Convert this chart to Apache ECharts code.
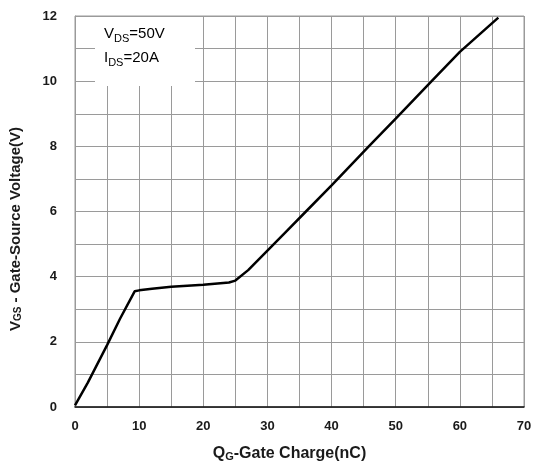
<!DOCTYPE html>
<html>
<head>
<meta charset="utf-8">
<script src="https://cdn.jsdelivr.net/npm/echarts@6/dist/echarts.min.js"></script>
<style>
  html, body { margin: 0; padding: 0; background: #fff; }
  #chart { width: 541px; height: 467px; }
</style>
</head>
<body>
<div id="chart"></div>
<script>
// gate charge curve
var chargeNC = [0, 2, 5, 7, 9.3, 10, 12, 15, 20, 24, 25, 27, 30, 33, 36, 40, 45.8, 50, 55.6, 60, 66];
var vgsVolts = [0.05, 0.75, 1.9, 2.7, 3.55, 3.58, 3.63, 3.69, 3.75, 3.82, 3.88, 4.2, 4.8, 5.4, 6.0, 6.8, 8.0, 8.85, 10.0, 10.9, 11.95];

var xLabelsEvery = 10;
var yLabelsEvery = 2;

var chart = echarts.init(document.getElementById('chart'));

var font = 'Liberation Sans, Arial, sans-serif';

var option = {
  backgroundColor: '#fff',
  animation: false,
  grid: {
    left: 75,
    right: 17,
    top: 16,
    bottom: 58,
    show: true,
    borderColor: '#9a9a9a',
    borderWidth: 1
  },
  xAxis: {
    type: 'value',
    min: 0,
    max: 70,
    interval: 5,
    name: '{b|Q}{s|G}{b|-Gate Charge(nC)}',
    nameLocation: 'middle',
    nameGap: 39,
    nameTextStyle: {
      padding: [0, 20, 0, 0],
      rich: {
        b: { fontFamily: font, fontWeight: 'bold', fontSize: 16, color: '#1a1a1a' },
        s: { fontFamily: font, fontWeight: 'bold', fontSize: 11, color: '#1a1a1a', verticalAlign: 'bottom', padding: [2, 0, 0, 0] }
      }
    },
    axisLine: { show: true, lineStyle: { color: '#111', width: 1.5 } },
    axisTick: { show: false },
    axisLabel: {
      margin: 13,
      fontFamily: font,
      fontWeight: 'bold',
      fontSize: 13,
      color: '#1a1a1a',
      formatter: function (v) { return v % xLabelsEvery === 0 ? String(v) : ''; }
    },
    splitLine: { show: true, lineStyle: { color: '#9a9a9a', width: 1 } }
  },
  yAxis: {
    type: 'value',
    min: 0,
    max: 12,
    interval: 1,
    name: '{b|V}{s|GS}{b| - Gate-Source Voltage(V)}',
    nameLocation: 'middle',
    nameGap: 52,
    nameRotate: 90,
    nameTextStyle: {
      padding: [0, 35, 0, 0],
      rich: {
        b: { fontFamily: font, fontWeight: 'bold', fontSize: 15, color: '#1a1a1a' },
        s: { fontFamily: font, fontWeight: 'bold', fontSize: 10, color: '#1a1a1a', verticalAlign: 'bottom', padding: [2, 0, 0, 0] }
      }
    },
    axisLine: { show: true, lineStyle: { color: '#9a9a9a', width: 1 } },
    axisTick: { show: false },
    axisLabel: {
      margin: 18,
      fontFamily: font,
      fontWeight: 'bold',
      fontSize: 13,
      color: '#1a1a1a',
      formatter: function (v) { return v % yLabelsEvery === 0 ? String(v) : ''; }
    },
    splitLine: { show: true, lineStyle: { color: '#9a9a9a', width: 1 } }
  },
  graphic: [
    {
      type: 'rect',
      z: 100,
      shape: { x: 95, y: 17, width: 100, height: 69 },
      style: { fill: '#fff' }
    },
    {
      type: 'text',
      z: 101,
      left: 104,
      top: 26,
      style: {
        text: '{n|V}{s|DS}{n|=50V}\n{n|I}{s|DS}{n|=20A}',
        rich: {
          n: { fontFamily: font, fontSize: 15, color: '#333', lineHeight: 24 },
          s: { fontFamily: font, fontSize: 11, color: '#333', lineHeight: 24, verticalAlign: 'bottom', padding: [0, 0, 1, 0] }
        }
      }
    }
  ],
  series: [{
    type: 'line',
    data: chargeNC.map(function (q, i) { return [q, vgsVolts[i]]; }),
    showSymbol: false,
    symbol: 'none',
    lineStyle: { color: '#000', width: 2.5 },
    z: 5
  }]
};

chart.setOption(option);
</script>
</body>
</html>
